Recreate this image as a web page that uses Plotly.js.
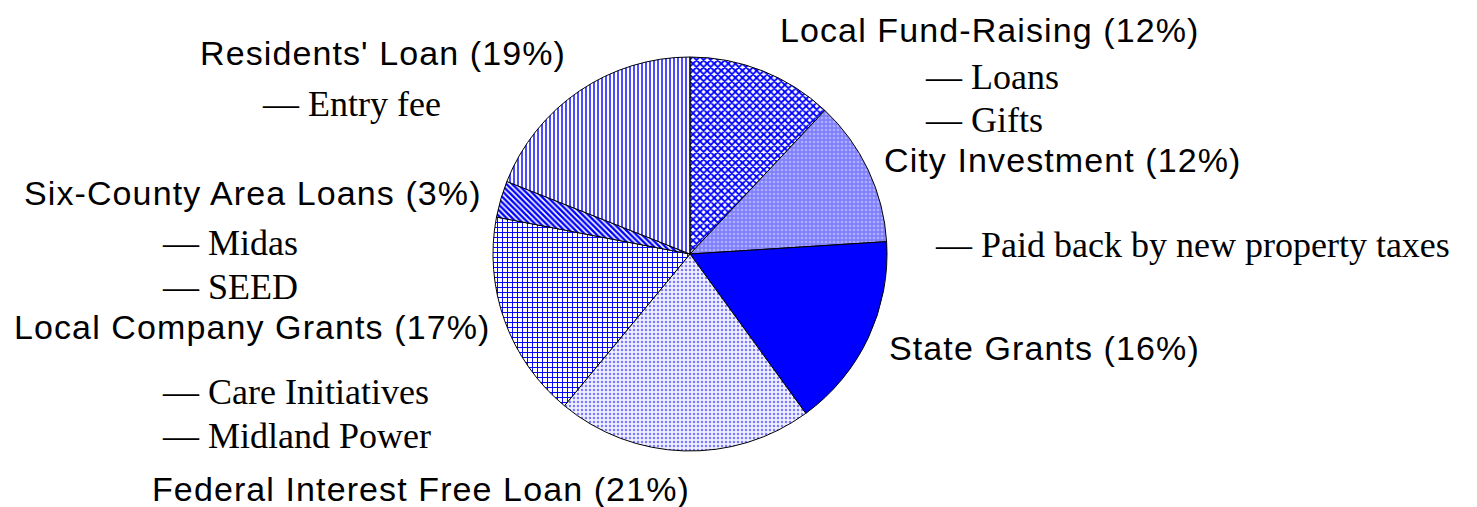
<!DOCTYPE html>
<html>
<head>
<meta charset="utf-8">
<script src="https://cdn.plot.ly/plotly-3.0.1.min.js"></script>
<style>
html,body{margin:0;padding:0;background:#fff;}
#chart{width:1477px;height:507px;}
.annotation-text[style*="Liberation Sans"]{letter-spacing:1.1px;}
</style>
</head>
<body>
<div id="chart"></div>
<script>
// ---- data ----
var categories = [
  "Local Fund-Raising",
  "City Investment",
  "State Grants",
  "Federal Interest Free Loan",
  "Local Company Grants",
  "Six-County Area Loans",
  "Residents' Loan"
];
var shares = [12, 12, 16, 21, 17, 3, 19];
var subItems = [
  ["Loans", "Gifts"],
  ["Paid back by new property taxes"],
  [],
  [],
  ["Care Initiatives", "Midland Power"],
  ["Midas", "SEED"],
  ["Entry fee"]
];

// ---- styles ----
var patShape  = ["x", ".", "", ".", "+", "\\", "|"];
var patFg     = ["#0000ff", "#b0b0ff", "#0000ff", "#7a7aff", "#0000ff", "#0000ff", "#0000ff"];
var patBg     = ["#ffffff", "#8080ff", "#0000ff", "#f0f0ff", "#ffffff", "#ffffff", "#ffffff"];
var patSize   = [5, 4, 4, 4, 5, 4, 4];
var patSolid  = [0.6, 0.35, 0.3, 0.3, 0.35, 0.6, 0.35];
var sliceColor= ["#6060ff", "#8888ff", "#0000ff", "#dcdcff", "#a0a0ff", "#4040ff", "#a0a0ff"];

var W = 1477, H = 507;
var cx = 690, cy = 254, r = 197;

// label layout (pixel positions: left x, vertical centre y)
var mainPos = [
  [778, 30], [882, 160], [887, 348], [150, 489], [12, 327], [22, 193], [198, 53]
];
var subPos = [
  [[923, 77], [923, 120]],
  [[933, 245]],
  [],
  [],
  [[160, 392], [160, 436]],
  [[160, 243], [160, 287]],
  [[260, 104]]
];

var trace = {
  type: "pie",
  labels: categories,
  values: shares,
  sort: false,
  direction: "clockwise",
  rotation: 0,
  textinfo: "none",
  hoverinfo: "label+percent",
  showlegend: false,
  domain: {x: [(cx - r) / W, (cx + r) / W], y: [(H - cy - r) / H, (H - cy + r) / H]},
  marker: {
    colors: sliceColor,
    line: {color: "#000000", width: 1},
    pattern: {shape: patShape, fgcolor: patFg, bgcolor: patBg, size: patSize, solidity: patSolid, fillmode: "replace"}
  }
};

var annotations = [];
for (var i = 0; i < categories.length; i++) {
  annotations.push({
    text: categories[i] + " (" + shares[i] + "%)",
    xref: "paper", yref: "paper",
    x: mainPos[i][0] / W, y: 1 - mainPos[i][1] / H,
    xanchor: "left", yanchor: "middle",
    showarrow: false,
    font: {family: "Liberation Sans, Arial, sans-serif", size: 34, color: "#000"}
  });
  for (var j = 0; j < subItems[i].length; j++) {
    annotations.push({
      text: "\u2014 " + subItems[i][j],
      xref: "paper", yref: "paper",
      x: subPos[i][j][0] / W, y: 1 - subPos[i][j][1] / H,
      xanchor: "left", yanchor: "middle",
      showarrow: false,
      font: {family: "Liberation Serif, Times New Roman, serif", size: 36, color: "#000"}
    });
  }
}

var layout = {
  width: W, height: H,
  margin: {l: 0, r: 0, t: 0, b: 0},
  paper_bgcolor: "#ffffff",
  plot_bgcolor: "#ffffff",
  annotations: annotations
};

Plotly.newPlot("chart", [trace], layout, {displayModeBar: false, staticPlot: true});
</script>
</body>
</html>
